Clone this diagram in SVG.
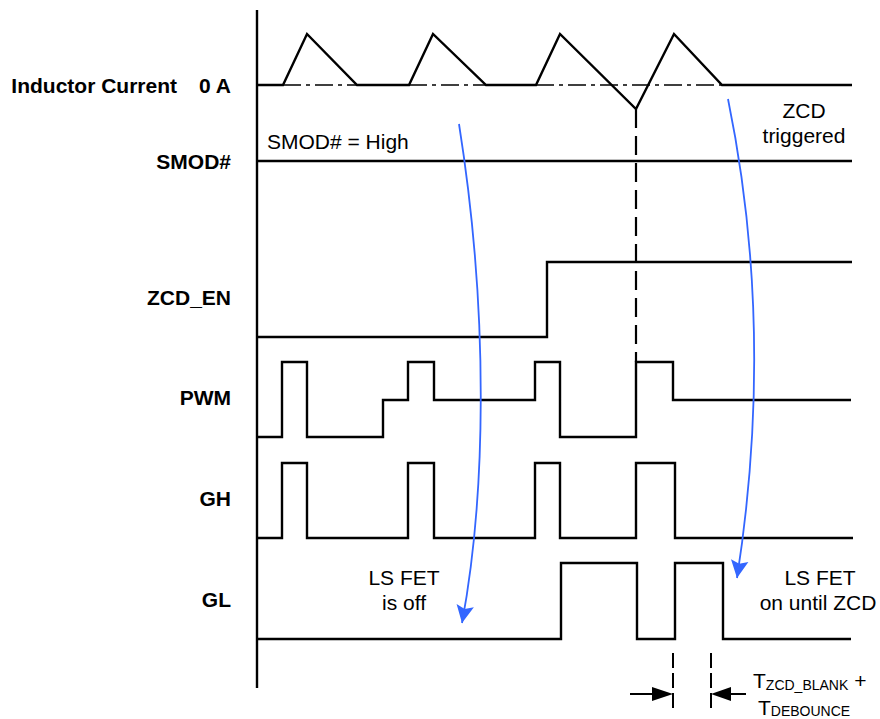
<svg xmlns="http://www.w3.org/2000/svg" width="880" height="719" viewBox="0 0 880 719">
<defs>
<style>
.sig{fill:none;stroke:#000;stroke-width:2.4;stroke-linejoin:miter;stroke-linecap:butt}
.lbl{font-family:"Liberation Sans",Arial,sans-serif;font-size:21px;font-weight:bold;fill:#000;text-anchor:end}
.note{font-family:"Liberation Sans",Arial,sans-serif;font-size:21px;fill:#000}
.mid{text-anchor:middle}
.sub{font-size:14px}
.blue{fill:none;stroke:#3366ff;stroke-width:1.8}
.dash{fill:none;stroke:#000;stroke-width:2.2;stroke-dasharray:19 8}
.dash2{fill:none;stroke:#000;stroke-width:2;stroke-dasharray:15 5}
</style>
<marker id="bh" markerUnits="userSpaceOnUse" markerWidth="22" markerHeight="22" viewBox="-2 -10 20 20" refX="16" refY="0" orient="auto">
<path d="M0,-8 L16,0 L0,8 L3,0 z" fill="#3366ff"/>
</marker>
</defs>
<rect width="880" height="719" fill="#fff"/>

<g id="axis"><line class="sig" x1="257" y1="10" x2="257" y2="688"/></g>

<g id="inductor-current">
<text class="lbl" x="177" y="93">Inductor Current</text>
<text class="lbl" x="231" y="93">0 A</text>
<path class="sig" d="M257,85 H283 L307,34 L357,85 H409 L433,34 L486,85 H536 L560,34 L636,109 L674,34 L722,85 H852"/>
<path fill="none" stroke="#000" stroke-width="1.6" stroke-dasharray="18 5 4 5" d="M283,85 H357 M409,85 H486 M536,85 H722"/>
</g>

<g id="smod">
<text class="lbl" x="231" y="169">SMOD#</text>
<line class="sig" x1="257" y1="161" x2="852" y2="161"/>
<text class="note" x="267" y="149">SMOD# = High</text>
</g>

<g id="zcd-en">
<text class="lbl" x="231" y="305">ZCD_EN</text>
<path class="sig" d="M257,337 H547 V262 H852"/>
</g>

<g id="pwm">
<text class="lbl" x="231" y="405">PWM</text>
<path class="sig" d="M257,437 H282 V362 H307 V437 H383 V400 H408 V362 H434 V400 H535 V362 H560 V437 H636 V362 H673 V400 H851"/>
</g>

<g id="gh">
<text class="lbl" x="231" y="506">GH</text>
<path class="sig" d="M257,538 H282 V463 H307 V538 H408 V463 H434 V538 H535 V463 H560 V538 H636 V463 H675 V538 H853"/>
</g>

<g id="gl">
<text class="lbl" x="231" y="607">GL</text>
<path class="sig" d="M257,639 H561 V563 H637 V639 H675 V563 H723 V639 H851"/>
</g>

<g id="notes">
<text class="note mid" x="804" y="118">ZCD</text>
<text class="note mid" x="804" y="143">triggered</text>
<text class="note mid" x="404" y="585">LS FET</text>
<text class="note mid" x="404" y="610">is off</text>
<text class="note mid" x="820" y="585">LS FET</text>
<text class="note mid" x="818" y="610">on until ZCD</text>
<text class="note" x="753" y="688">T<tspan class="sub" dy="2">ZCD_BLANK</tspan><tspan dy="-2"> +</tspan></text>
<text class="note" x="758" y="715">T<tspan class="sub" dy="1">DEBOUNCE</tspan></text>
</g>

<g id="connectors">
<path class="dash" d="M636,109 V362"/>
<path class="dash2" d="M673,653 V713 M711,653 V713"/>
<line x1="630" y1="694" x2="655" y2="694" stroke="#000" stroke-width="2"/>
<path d="M652,687 L673,694 L652,701 z" fill="#000"/>
<line x1="746" y1="694" x2="728" y2="694" stroke="#000" stroke-width="2"/>
<path d="M731,687 L711,694 L731,701 z" fill="#000"/>
<path class="blue" marker-end="url(#bh)" d="M459,124 C490,320 485,500 462,623"/>
<path class="blue" marker-end="url(#bh)" d="M728,99 C763,270 760,430 737,578"/>
</g>
</svg>
